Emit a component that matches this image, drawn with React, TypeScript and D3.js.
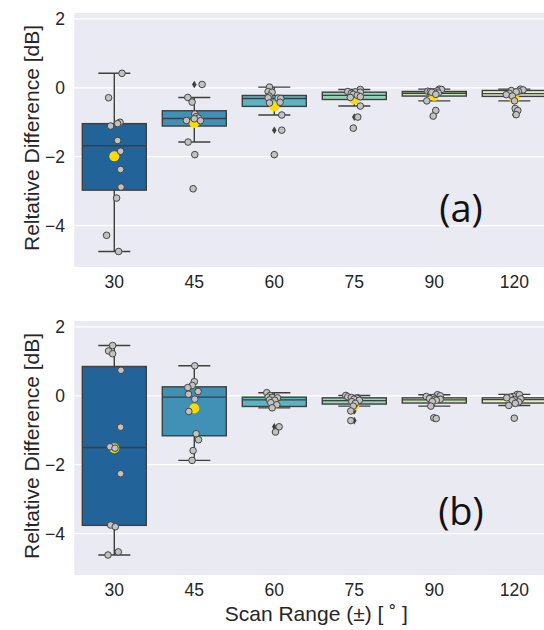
import React, { useEffect, useRef } from "react";
import * as d3 from "d3";

const categories = ["30", "45", "60", "75", "90", "120"];
const yTicks = [2, 0, -2, -4];
const panelLabels = ["(a)", "(b)"];
const boxColors = ["#22649a", "#4190b6", "#5bb4bf", "#94d3b5", "#c6e6b4", "#e4f2c8"];

// panel (a): per-run points, jitter in 1/80 of a category
const pointsA = [
  [0.42, -0.29, -1.0, -1.04, -1.11, -1.53, -1.84, -2.37, -2.88, -3.2, -4.28, -4.75],
  [0.097, -0.28, -0.415, -0.76, -0.84, -0.88, -0.9, -0.95, -0.955, -1.575, -1.94, -2.93],
  [0.02, -0.11, -0.13, -0.24, -0.29, -0.3, -0.31, -0.42, -0.44, -0.79, -1.23, -1.94],
  [-0.05, -0.11, -0.12, -0.13, -0.16, -0.19, -0.22, -0.26, -0.28, -0.53, -0.85, -1.17],
  [-0.04, -0.05, -0.09, -0.1, -0.11, -0.12, -0.13, -0.15, -0.19, -0.38, -0.66, -0.82],
  [-0.04, -0.06, -0.08, -0.1, -0.12, -0.16, -0.2, -0.24, -0.38, -0.6, -0.66, -0.78],
];
const jitterA = [
  [7.7, -5.7, 5.7, 3.3, -3.7, 3.3, 6.3, 6.3, 6.7, 2.3, -7.7, 4.3],
  [7.8, -6.5, -2.2, 0.5, 1.8, 4.2, 0, -7.8, 6.2, -6.2, 0.5, -1.2],
  [-4.8, -6.2, -2.2, -5.2, -6.2, 3.8, 6.5, 5.8, -4.8, 7.5, 7.5, 0],
  [6, -6.5, 1, 6, -3, -1, 3, 6, -4, 6, 3.5, -1],
  [5, 7.2, 2.9, -6.5, -4, 0, -2.5, 4, 1.5, -7.5, 1.5, -1.1],
  [6.2, 8.8, -3, 4, 1.9, -5, -8, -2, 0.2, 0.9, 3.5, 1.9],
];
const whiskLoA = [-4.75, -1.575, -0.79, -0.53, -0.38, -0.38];
const q1A = [-2.97, -1.11, -0.54, -0.34, -0.24, -0.25];
const medA = [-1.68, -0.89, -0.31, -0.22, -0.16, -0.17];
const q3A = [-1.04, -0.667, -0.223, -0.127, -0.107, -0.078];
const whiskHiA = [0.42, -0.28, 0.02, -0.05, -0.04, -0.04];
const meanA = [-1.99, -1.02, -0.54, -0.34, -0.24, -0.32];

// panel (b)
const pointsB = [
  [1.458, 1.3, 1.22, 0.74, -0.91, -1.48, -1.52, -2.26, -3.75, -3.8, -4.53, -4.62],
  [0.87, 0.41, 0.3, 0.24, 0.125, 0.046, -0.098, -0.455, -1.1, -1.275, -1.59, -1.875],
  [0.09, 0.01, -0.04, -0.05, -0.06, -0.12, -0.13, -0.2, -0.26, -0.35, -0.9, -1.05],
  [0.01, -0.03, -0.05, -0.06, -0.07, -0.1, -0.13, -0.17, -0.22, -0.3, -0.44, -0.72],
  [0.03, 0.0, -0.02, -0.05, -0.08, -0.1, -0.1, -0.13, -0.17, -0.3, -0.64, -0.66],
  [0.04, 0.03, -0.02, -0.04, -0.06, -0.09, -0.11, -0.14, -0.18, -0.22, -0.28, -0.65],
];
const jitterB = [
  [-1.7, -5.7, -1.7, 6.7, 6.3, -4.3, 0.7, 6.3, -3.7, 1, 4, -6.3],
  [0.5, 0, -2, -6.5, 3.8, -5.8, 0.5, -5.5, 1.8, 4.2, -1.2, -2.2],
  [-7.5, -4.2, -6.2, -2.2, 3.2, -4.8, 0.5, -3.5, 2.5, -2.2, 4.8, 1.2],
  [-8.5, -6.5, -3, 3.5, 2.5, -0.5, 5, -2.5, 1, -1, -3.5, -3.5],
  [3.2, 6, -8.1, -1, -4.8, 5.9, 0.5, 2, -2, -3.5, -0.5, 1.9],
  [3, 5.2, -1, -3.8, -7.5, 6.5, 0, -2, 4.5, 1, -5.5, 0],
];
const whiskLoB = [-4.62, -1.875, -0.35, -0.3, -0.3, -0.28];
const q1B = [-3.76, -1.16, -0.31, -0.24, -0.21, -0.21];
const medB = [-1.5, -0.04, -0.12, -0.14, -0.12, -0.11];
const q3B = [0.85, 0.26, -0.04, -0.06, -0.06, -0.06];
const whiskHiB = [1.458, 0.87, 0.09, 0.01, 0.03, 0.04];
const meanB = [-1.52, -0.37, -0.26, -0.28, -0.12, -0.17];

const App = () => {
  const ref = useRef<SVGSVGElement>(null);

  useEffect(() => {
    const svg = d3.select(ref.current);
    svg.selectAll("*").remove();

    const ylim = [-5.2, 2.17];
    const edge = "#3f3f3f";
    const font = "'Liberation Sans', Arial, sans-serif";

    const x = d3.scaleBand().domain(categories).range([74.3, 554.3]);
    const bw = x.bandwidth();
    const boxW = bw * 0.8;

    const panels = [
      { top: 13, pts: pointsA, jit: jitterA, lo: whiskLoA, q1: q1A, med: medA, q3: q3A, hi: whiskHiA, mean: meanA },
      { top: 321, pts: pointsB, jit: jitterB, lo: whiskLoB, q1: q1B, med: medB, q3: q3B, hi: whiskHiB, mean: meanB },
    ];
    const H = 254;

    panels.forEach((p, pi) => {
      const y = d3.scaleLinear().domain(ylim).range([p.top + H, p.top]);
      const g = svg.append("g");

      g.append("rect")
        .attr("x", x.range()[0])
        .attr("y", p.top)
        .attr("width", x.range()[1] - x.range()[0])
        .attr("height", H)
        .attr("fill", "#eaeaf2");

      g.selectAll(".grid")
        .data(yTicks)
        .enter()
        .append("line")
        .attr("x1", x.range()[0])
        .attr("x2", x.range()[1])
        .attr("y1", (d) => y(d))
        .attr("y2", (d) => y(d))
        .attr("stroke", "white")
        .attr("stroke-width", 1.2);

      g.selectAll(".ytick")
        .data(yTicks)
        .enter()
        .append("text")
        .attr("x", 65)
        .attr("y", (d) => y(d))
        .attr("dy", "0.35em")
        .attr("text-anchor", "end")
        .attr("font-family", font)
        .attr("font-size", 17.5)
        .attr("fill", "#262626")
        .text((d) => (d < 0 ? "\u2212" + Math.abs(d) : String(d)));

      g.selectAll(".xtick")
        .data(categories)
        .enter()
        .append("text")
        .attr("x", (d) => x(d)! + bw / 2)
        .attr("y", p.top + H + 21)
        .attr("text-anchor", "middle")
        .attr("font-family", font)
        .attr("font-size", 17.5)
        .attr("fill", "#262626")
        .text((d) => d);

      g.append("text")
        .attr("transform", `translate(39,${p.top + H / 2 - 2}) rotate(-90)`)
        .attr("text-anchor", "middle")
        .attr("font-family", font)
        .attr("font-size", 21)
        .attr("fill", "#262626")
        .text("Reltative Difference [dB]");

      categories.forEach((c, i) => {
        const cx = x(c)! + bw / 2;
        const bg = g.append("g");
        // whiskers
        bg.append("line").attr("x1", cx).attr("x2", cx).attr("y1", y(p.hi[i])).attr("y2", y(p.q3[i]))
          .attr("stroke", edge).attr("stroke-width", 1.4);
        bg.append("line").attr("x1", cx).attr("x2", cx).attr("y1", y(p.q1[i])).attr("y2", y(p.lo[i]))
          .attr("stroke", edge).attr("stroke-width", 1.4);
        [p.hi[i], p.lo[i]].forEach((v) => {
          bg.append("line").attr("x1", cx - boxW / 4).attr("x2", cx + boxW / 4)
            .attr("y1", y(v)).attr("y2", y(v)).attr("stroke", edge).attr("stroke-width", 1.4);
        });
        bg.append("rect")
          .attr("x", cx - boxW / 2)
          .attr("y", y(p.q3[i]))
          .attr("width", boxW)
          .attr("height", Math.max(1, y(p.q1[i]) - y(p.q3[i])))
          .attr("fill", boxColors[i])
          .attr("stroke", edge)
          .attr("stroke-width", 1.4);
        bg.append("line").attr("x1", cx - boxW / 2).attr("x2", cx + boxW / 2)
          .attr("y1", y(p.med[i])).attr("y2", y(p.med[i])).attr("stroke", edge).attr("stroke-width", 1.4);

        // fliers (diamonds)
        const fliers = p.pts[i].filter((v) => v < p.lo[i] - 0.005 || v > p.hi[i] + 0.005);
        bg.selectAll(".flier")
          .data(fliers)
          .enter()
          .append("path")
          .attr("d", "M0,-3.8L2.3,0L0,3.8L-2.3,0Z")
          .attr("transform", (v) => `translate(${cx},${y(v)})`)
          .attr("fill", edge);

        // mean
        bg.append("circle").attr("cx", cx).attr("cy", y(p.mean[i])).attr("r", 5).attr("fill", "#ffd90f");

        // strip points
        bg.selectAll(".pt")
          .data(p.pts[i])
          .enter()
          .append("circle")
          .attr("cx", (v, j) => cx + (p.jit[i][j] * bw) / 80)
          .attr("cy", (v) => y(v))
          .attr("r", 3.3)
          .attr("fill", "#c2c2c2")
          .attr("stroke", "#444")
          .attr("stroke-width", 1);
      });

      g.append("text")
        .attr("x", 461)
        .attr("y", p.top + (pi === 0 ? 209 : 204))
        .attr("text-anchor", "middle")
        .attr("font-family", "'Open Sans', sans-serif")
        .attr("font-size", 38)
        .attr("fill", "#111")
        .text(panelLabels[pi]);
    });

    svg.append("text")
      .attr("x", x.range()[0] + 242)
      .attr("y", 621)
      .attr("text-anchor", "middle")
      .attr("font-family", font)
      .attr("font-size", 21)
      .attr("fill", "#262626")
      .text("Scan Range (\u00b1) [ \u02da ]");
  }, []);

  return (
    <svg
      ref={ref}
      width={544}
      height={630}
      style={{ position: "absolute", left: 0, top: 0, background: "white" }}
    />
  );
};

export default App;
